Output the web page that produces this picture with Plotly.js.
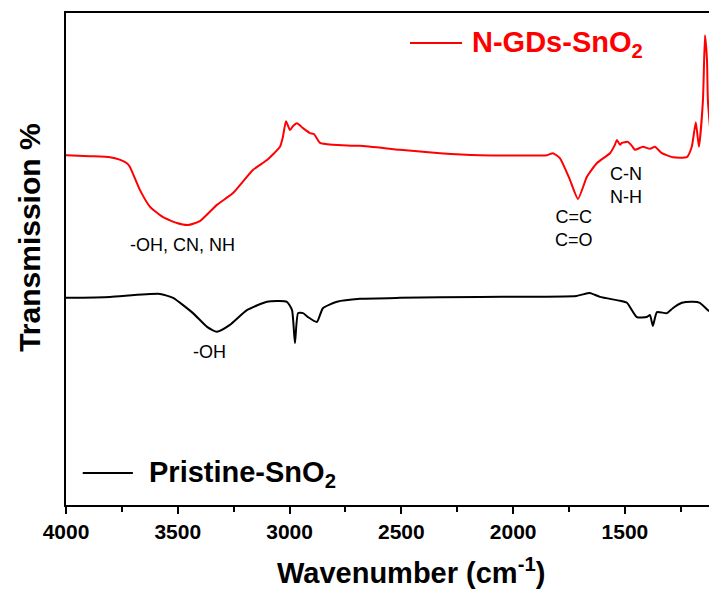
<!DOCTYPE html>
<html>
<head>
<meta charset="utf-8">
<script src="https://cdn.plot.ly/plotly-3.0.1.min.js"></script>
<style>html,body{margin:0;padding:0;background:#fff;}#chart{width:709px;height:590px;}</style>
</head>
<body>
<div id="chart"></div>
<script>
// N-GDs-SnO2 spectrum (wavenumber cm-1, transmission a.u.)
const ngdsWavenumber = [4000,3893,3803,3760,3729,3714,3669,3624,3566,3504,3454,3401,3325,3253,3164,3101,3043,3030,3016,2998,2985,2967,2940,2909,2891,2864,2806,2685,2506,2327,2149,1849,1822,1791,1746,1710,1670,1625,1567,1545,1536,1522,1514,1487,1469,1455,1420,1388,1366,1335,1286,1223,1201,1183,1169,1151,1142,1133,1129,1111];
const ngdsTransmission = [71.1,70.9,70.7,70.2,69.5,68.7,64.0,60.6,58.5,57.3,56.9,57.7,61.0,63.4,68.1,70.1,72.8,74.8,78.0,76.2,77.0,77.6,76.6,75.6,75.4,73.6,73.2,73.0,72.2,71.5,71.1,71.1,71.5,70.5,66.1,62.2,66.7,69.5,71.5,73.2,74.2,73.2,73.6,73.8,73.0,72.2,72.8,72.4,72.8,71.5,70.7,70.7,72.8,77.8,72.8,82.3,95.5,90.4,82.3,72.2];

// Pristine-SnO2 spectrum
const pristineWavenumber = [4000,3803,3580,3521,3432,3369,3325,3267,3191,3101,3012,2989,2976,2962,2940,2918,2878,2851,2788,2685,2506,2149,1716,1657,1612,1522,1491,1447,1402,1388,1375,1357,1312,1286,1245,1196,1165,1129,1111];
const pristineTransmission = [42.1,42.3,42.9,42.1,39.0,36.2,35.2,36.6,39.6,41.3,41.3,39.6,32.9,39.0,39.0,38.2,37.2,40.0,41.3,41.9,42.1,42.3,42.5,43.1,42.3,41.5,41.1,38.2,38.2,38.6,36.4,39.2,39.0,40.0,41.1,41.3,41.1,39.6,39.2];

// Tick labels
const tickValues = [4000,3500,3000,2500,2000,1500];
const tickLabels = ["4000","3500","3000","2500","2000","1500"];

// Peak assignment labels (two-line labels joined with <br>)
const peakLabels = ["-OH, CN, NH","-OH","C=C<br>C=O","C-N<br>N-H"];
const peakLabelX = [3477,3356,1728,1496];
const peakLabelY = [52.8,31.1,56.3,65.0];

const seriesNames = ["N-GDs-SnO<sub>2</sub>","Pristine-SnO<sub>2</sub>"];
const seriesColors = ["#ff0000","#000000"];
const xTitle = "Wavenumber (cm<sup>-1</sup>)";
const yTitle = "Transmission %";

const baseFont = "Liberation Sans";

const traces = [
  {x: ngdsWavenumber, y: ngdsTransmission, type: "scatter", mode: "lines", name: seriesNames[0],
   line: {color: seriesColors[0], width: 2, shape: "spline", smoothing: 0.5}, showlegend: false, hoverinfo: "skip"},
  {x: pristineWavenumber, y: pristineTransmission, type: "scatter", mode: "lines", name: seriesNames[1],
   line: {color: seriesColors[1], width: 2, shape: "spline", smoothing: 0.5}, showlegend: false, hoverinfo: "skip"}
];

const annotations = peakLabels.map((t, i) => ({
  x: peakLabelX[i], y: peakLabelY[i], xref: "x", yref: "y", text: t, showarrow: false,
  font: {family: baseFont, size: 18, color: "#000000"}, xanchor: "center", yanchor: "middle"
}));

// legend-like labels
annotations.push({x: 0.628, y: 0.936, xref: "paper", yref: "paper", text: "<b>" + seriesNames[0] + "</b>", showarrow: false,
  xanchor: "left", yanchor: "middle", font: {family: baseFont, size: 29, color: seriesColors[0]}});
annotations.push({x: 0.126, y: 0.062, xref: "paper", yref: "paper", text: "<b>" + seriesNames[1] + "</b>", showarrow: false,
  xanchor: "left", yanchor: "middle", font: {family: baseFont, size: 29, color: seriesColors[1]}});

// axis titles (placed as in the reference)
annotations.push({x: 0.536, y: -0.135, xref: "paper", yref: "paper", text: "<b>" + xTitle + "</b>", showarrow: false,
  xanchor: "center", yanchor: "middle", font: {family: baseFont, size: 29, color: "#000000"}});
annotations.push({x: -0.056, y: 0.543, xref: "paper", yref: "paper", text: "<b>" + yTitle + "</b>", showarrow: false,
  textangle: -90, xanchor: "center", yanchor: "middle", font: {family: baseFont, size: 30, color: "#000000"}});

const shapes = [
  {type: "line", xref: "paper", yref: "paper", x0: 0.535, x1: 0.616, y0: 0.939, y1: 0.939, line: {color: seriesColors[0], width: 2}},
  {type: "line", xref: "paper", yref: "paper", x0: 0.026, x1: 0.104, y0: 0.065, y1: 0.065, line: {color: seriesColors[1], width: 2}}
];

const layout = {
  width: 709, height: 590,
  margin: {l: 66, r: 0, t: 13, b: 85},
  paper_bgcolor: "#ffffff", plot_bgcolor: "#ffffff",
  showlegend: false,
  font: {family: baseFont, size: 18, color: "#000000"},
  xaxis: {
    range: [4000, 1124], autorange: false,
    tickmode: "array", tickvals: tickValues, ticktext: tickLabels,
    ticks: "outside", ticklen: 7, tickwidth: 2, tickcolor: "#000000",
    minor: {dtick: 250, tick0: 0, ticks: "outside", ticklen: 5, tickwidth: 2, tickcolor: "#000000", showgrid: false},
    tickfont: {family: baseFont, size: 21, color: "#000000", weight: "bold"},
    showline: true, linecolor: "#000000", linewidth: 2, mirror: true,
    showgrid: false, zeroline: false
  },
  yaxis: {
    range: [0, 100], autorange: false,
    tickmode: "array", tickvals: [], ticktext: [],
    showticklabels: false, ticks: "",
    showline: true, linecolor: "#000000", linewidth: 2, mirror: false,
    showgrid: false, zeroline: false
  },
  annotations: annotations,
  shapes: shapes
};

Plotly.newPlot("chart", traces, layout, {staticPlot: true, displayModeBar: false});
</script>
</body>
</html>
